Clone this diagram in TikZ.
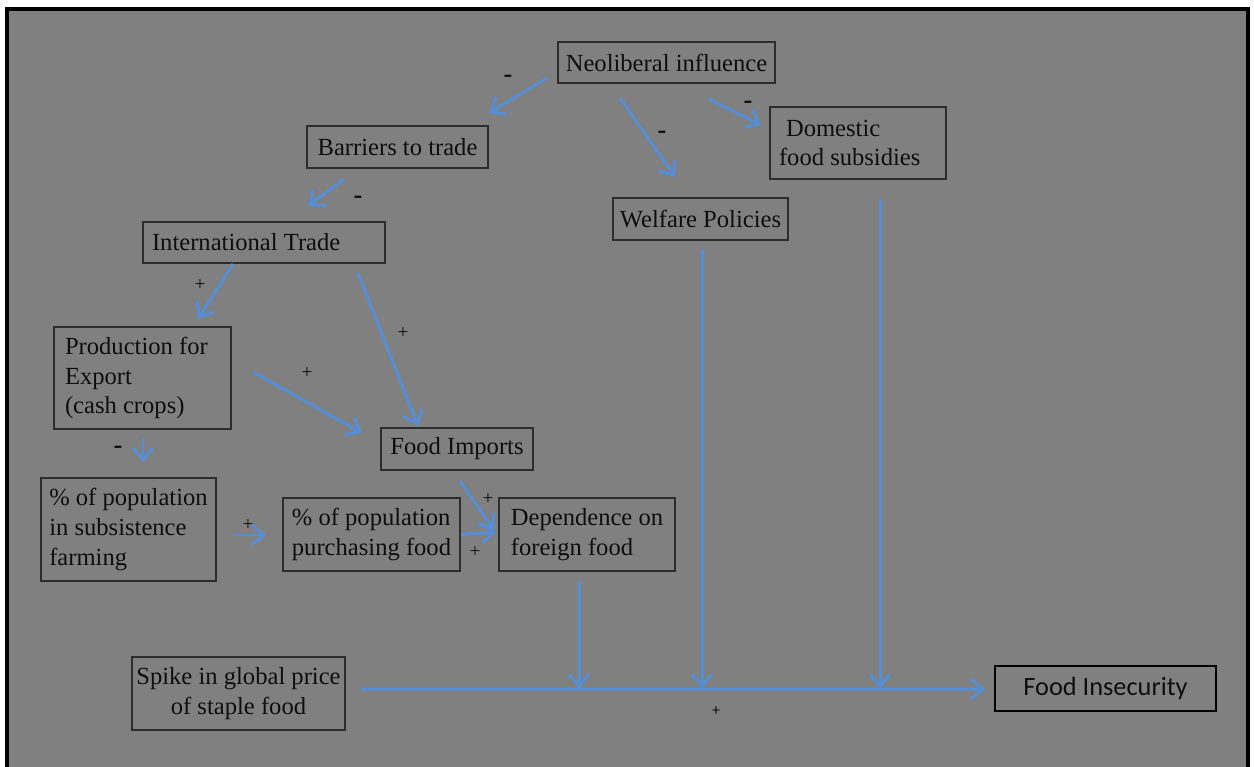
\documentclass[tikz,border=0pt]{standalone}
\usepackage{fontspec}
\setmainfont{Liberation Serif}
\newfontfamily\calfont{Carlito}
\usetikzlibrary{calc,arrows.meta}
\definecolor{bggrey}{RGB}{128,128,128}
\definecolor{boxline}{RGB}{45,45,45}
\definecolor{inkgrey}{RGB}{14,14,14}
\definecolor{linkblue}{RGB}{86,142,214}
\begin{document}
\begin{tikzpicture}[x=0.02cm,y=-0.02cm,
   factor/.style={draw=boxline,line width=1.1pt,text=inkgrey,inner sep=0pt,align=left,font=\fontsize{14}{17}\selectfont},
   link/.style={draw=linkblue,line width=1.7pt,-{Straight Barb[length=2.4mm,width=4mm]}},
   sign/.style={text=inkgrey,inner sep=0pt,font=\fontsize{11}{12}\selectfont}]
   \useasboundingbox (0,0) rectangle (1254,767);
   \fill [bggrey] (5,7) rectangle (1250,767);
   \draw [black,line width=0.08cm] (7,767) -- (7,9) -- (1248,9) -- (1248,767);
   \node [factor,minimum width=4.34cm,minimum height=0.82cm] (neo) at (666.5,62.5) {Neoliberal influence};
   \node [factor,minimum width=3.62cm,minimum height=0.84cm] (barriers) at (397.5,147) {Barriers to trade};
   \node [factor,align=flush left,text width=3.16cm,inner xsep=0.18cm,minimum height=1.44cm] (domestic) at (858,143) {\hspace*{0.14cm}Domestic\\food subsidies};
   \node [factor,minimum width=3.5cm,minimum height=0.84cm] (welfare) at (700.5,219) {Welfare Policies};
   \node [factor,align=flush left,text width=4.48cm,inner xsep=0.18cm,minimum height=0.82cm] (trade) at (264,242.5) {International Trade};
   \node [factor,align=flush left,text width=3.1cm,inner xsep=0.22cm,minimum height=2.04cm] (export) at (142.5,378) {Production for\\Export\\(cash crops)};
   \node [factor,minimum width=3.5cm,minimum height=2.06cm] (subsist) at (128.5,529.5) {\% of population\\in subsistence\\farming};
   \node [factor,minimum width=3.54cm,minimum height=1.46cm] (purchase) at (371.5,534.5) {\% of population\\purchasing food};
   \node [factor,minimum width=3.04cm,minimum height=0.84cm] (imports) at (457,449) {Food Imports};
   \node [factor,minimum width=3.52cm,minimum height=1.46cm] (depend) at (587,534.5) {Dependence on\\foreign food};
   \node [factor,align=center,minimum width=4.26cm,minimum height=1.46cm] (spike) at (238.5,693.5) {Spike in global price\\of staple food};
   \node [factor,draw=black,line width=0.8pt,font=\calfont\fontsize{15}{18}\selectfont,minimum width=4.42cm,minimum height=0.9cm] (insecure) at (1105.5,688.5) {Food Insecurity};
   \draw [link] ($(neo.south west)+(-10,-6)$) -- ($(barriers.north east)+(0,-12)$);
   \draw [link] ($(barriers.south west)+(38,10)$) -- ($(trade.north)+(44,-15)$);
   \draw [link] ($(neo.south)+(-46.5,14)$) -- ($(welfare.north)+(-25.5,-20)$);
   \draw [link] ($(neo.south east)+(-67,15)$) -- ($(domestic.west)+(-8,-18)$);
   \draw [link] ($(trade.south)+(-31,0)$) -- ($(export.north)+(55.5,-7)$);
   \draw [link] ($(trade.south east)+(-28,9)$) -- ($(imports.north)+(-39,-1)$);
   \draw [link] ($(export.east)+(21,-6)$) -- ($(imports.west)+(-18,-16)$);
   \draw [link] ($(export.south)+(0.5,8)$) -- ($(subsist.north)+(14.5,-15)$);
   \draw [link] ($(subsist.east)+(16,5.5)$) -- ($(purchase.west)+(-16,0.5)$);
   \draw [link] (purchase.east) -- ($(depend.west)+(-2,-2.5)$);
   \draw [link] ($(imports.south)+(3,10)$) -- ($(depend.west)+(-4,-4.5)$);
   \draw [link] ($(spike.east)+(15,-4.5)$) -- ($(insecure.west)+(-9,0.5)$);
   \coordinate (deptop) at ($(depend.south)+(-8,9)$);
   \coordinate (weltop) at ($(welfare.south)+(1.5,8)$);
   \coordinate (domtop) at ($(domestic.south)+(22,19)$);
   \draw [link] (deptop) -- (deptop |- insecure.west);
   \draw [link] (weltop) -- (weltop |- insecure.west);
   \draw [link] (domtop) -- (domtop |- insecure.west);
   \node [sign,font=\fontsize{15}{16}\selectfont] (m1) at (508,79) {\textbf{-}};
   \node [sign,font=\fontsize{15}{16}\selectfont] (m2) at (358,200) {\textbf{-}};
   \node [sign,font=\fontsize{15}{16}\selectfont] (m3) at (662,135) {\textbf{-}};
   \node [sign,font=\fontsize{15}{16}\selectfont] (m4) at (748,105) {\textbf{-}};
   \node [sign,font=\fontsize{15}{16}\selectfont] (m5) at (118,450) {\textbf{-}};
   \node [sign] (p1) at (200,285) {+};
   \node [sign] (p2) at (403,333) {+};
   \node [sign] (p3) at (307,373) {+};
   \node [sign] (p4) at (248,525) {+};
   \node [sign] (p5) at (475,552) {+};
   \node [sign] (p6) at (488,499) {+};
   \node [sign,font=\calfont\fontsize{9}{10}\selectfont] (p7) at (716,711) {+};
\end{tikzpicture}
\end{document}
